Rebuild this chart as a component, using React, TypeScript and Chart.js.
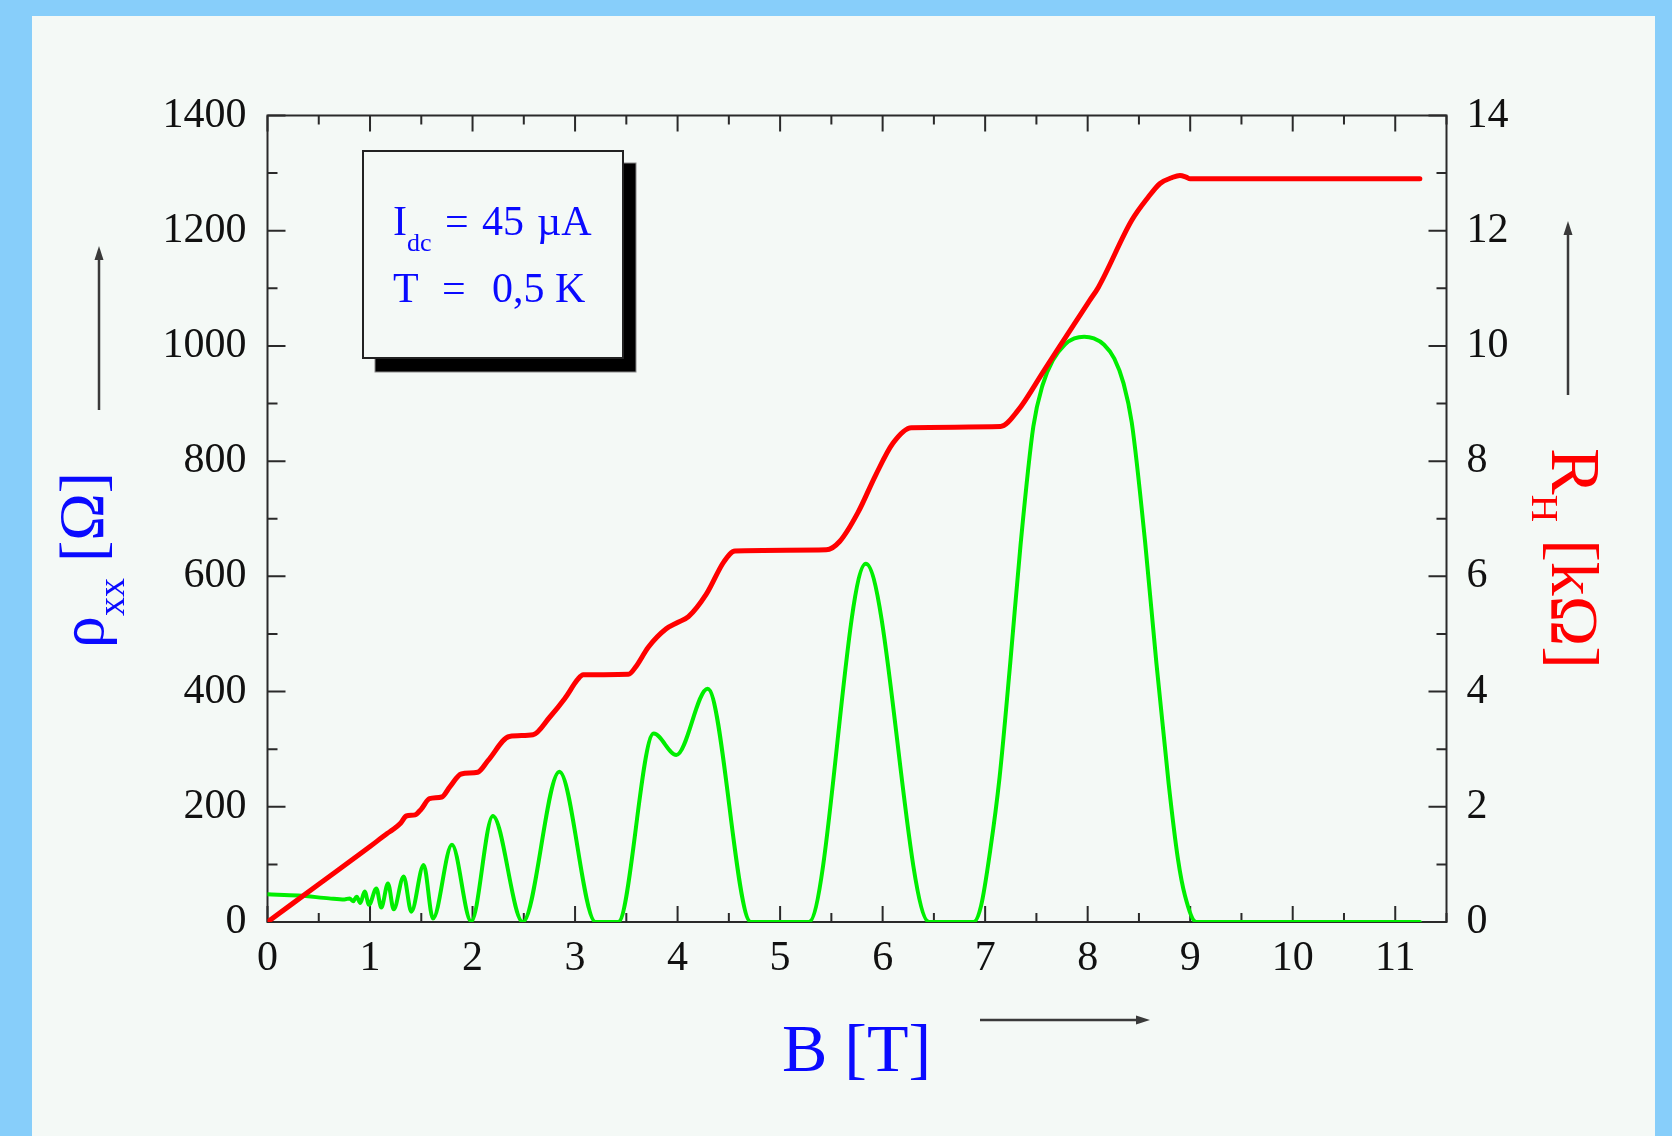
import React, { useEffect, useRef } from 'react';
import { Chart, registerables } from 'chart.js';

Chart.register(...registerables);

// ---- data ----
// longitudinal resistivity rho_xx [Ohm] vs B [T]
const rhoField = [
  0, 0.3, 0.6, 0.75, 0.8, 0.835, 0.87, 0.905, 0.948, 0.99, 1.062, 1.11, 1.175, 1.231, 1.328, 1.403,
  1.523, 1.614, 1.799, 1.987, 2.198, 2.49, 2.847, 3.2, 3.42, 3.767, 3.988, 4.293, 4.715, 5.28, 5.836,
  6.454, 6.888, 6.96, 7.05, 7.14, 7.245, 7.345, 7.47, 7.56, 7.66, 7.78, 7.87, 7.966, 8.06, 8.16, 8.26,
  8.35, 8.43, 8.56, 8.67, 8.79, 8.88, 8.95, 9.06, 11.24,
];
const rhoValues = [
  48, 46, 41, 39, 41, 36, 44, 33, 53, 30, 58, 25, 67, 22, 79, 18,
  99, 6, 134, 1, 184, 0, 261, 0, 0, 327, 290, 405, 0, 0, 622,
  0, 0, 28, 125, 250, 450, 654, 860, 932, 975, 1003, 1013, 1016, 1013, 1002, 978,
  935, 867, 660, 450, 240, 110, 45, 0, 0,
];
// Hall resistance R_H [kOhm] vs B [T]
const hallField = [
  0, 0.5, 1.0, 1.17, 1.22, 1.3, 1.354, 1.44, 1.5, 1.58, 1.7, 1.78, 1.89, 2.05, 2.15, 2.36, 2.59,
  2.75, 2.9, 3.03, 3.08, 3.52, 3.6, 3.714, 3.889, 4.0, 4.106, 4.28, 4.454, 4.56, 5.45, 5.583, 5.76,
  5.93, 6.1, 6.28, 7.15, 7.32, 7.58, 8.02, 8.105, 8.43, 8.59, 8.706, 8.82, 8.9, 8.96, 9.0, 11.24,
];
const hallValues = [
  0, 0.655, 1.31, 1.54, 1.6, 1.72, 1.84, 1.86, 1.96, 2.14, 2.17, 2.35, 2.57, 2.6, 2.8, 3.22, 3.25,
  3.55, 3.88, 4.22, 4.29, 4.3, 4.45, 4.77, 5.09, 5.2, 5.3, 5.69, 6.26, 6.44, 6.46, 6.61, 7.11,
  7.75, 8.31, 8.58, 8.6, 8.88, 9.59, 10.79, 11.02, 12.18, 12.58, 12.82, 12.92, 12.96, 12.93, 12.9, 12.9,
];

// ---- axes ----
const bTicks = [0, 1, 2, 3, 4, 5, 6, 7, 8, 9, 10, 11];
const bTickLabels = ['0', '1', '2', '3', '4', '5', '6', '7', '8', '9', '10', '11'];
const rhoTicks = [0, 200, 400, 600, 800, 1000, 1200, 1400];
const rhoTickLabels = ['0', '200', '400', '600', '800', '1000', '1200', '1400'];
const hallTicks = [0, 2, 4, 6, 8, 10, 12, 14];
const hallTickLabels = ['0', '2', '4', '6', '8', '10', '12', '14'];
const B_MIN = 0;
const B_MAX = 11.5;
const B_MINOR = 0.5;
const RHO_MINOR = 100;
const HALL_MINOR = 1;

const SERIF = "'Liberation Serif', 'Times New Roman', serif";
const BLUE = '#0a0aff';
const RED = '#ff0000';
const PANEL = '#f4f9f6';

type Part = { text: string; size: number; dy: number };

function drawParts(ctx: CanvasRenderingContext2D, parts: Part[], x: number, y: number, color: string) {
  ctx.fillStyle = color;
  ctx.textBaseline = 'alphabetic';
  ctx.textAlign = 'left';
  let px = x;
  for (const p of parts) {
    ctx.font = `${p.size}px ${SERIF}`;
    ctx.fillText(p.text, px, y + p.dy);
    px += ctx.measureText(p.text).width;
  }
}

function arrow(ctx: CanvasRenderingContext2D, x1: number, y1: number, x2: number, y2: number) {
  const ang = Math.atan2(y2 - y1, x2 - x1);
  const L = 14;
  const W = 4.5;
  ctx.save();
  ctx.strokeStyle = '#3a3a3a';
  ctx.fillStyle = '#3a3a3a';
  ctx.lineWidth = 2.5;
  ctx.beginPath();
  ctx.moveTo(x1, y1);
  ctx.lineTo(x2 - Math.cos(ang) * L * 0.7, y2 - Math.sin(ang) * L * 0.7);
  ctx.stroke();
  ctx.beginPath();
  ctx.moveTo(x2, y2);
  ctx.lineTo(x2 - Math.cos(ang) * L - Math.sin(ang) * W, y2 - Math.sin(ang) * L + Math.cos(ang) * W);
  ctx.lineTo(x2 - Math.cos(ang) * L + Math.sin(ang) * W, y2 - Math.sin(ang) * L - Math.cos(ang) * W);
  ctx.closePath();
  ctx.fill();
  ctx.restore();
}

export default function App() {
  const ref = useRef<HTMLCanvasElement>(null);

  useEffect(() => {
    const canvas = ref.current;
    if (!canvas) return;

    const bgPlugin = {
      id: 'bg',
      beforeDraw(chart: any) {
        const c = chart.ctx as CanvasRenderingContext2D;
        c.save();
        c.fillStyle = '#87cefa';
        c.fillRect(0, 0, chart.width, chart.height);
        c.fillStyle = PANEL;
        c.fillRect(32, 16, 1623, 1120);
        c.restore();
      },
    };

    const framePlugin = {
      id: 'frame',
      beforeDatasetsDraw(chart: any) {
        const ctx = chart.ctx as CanvasRenderingContext2D;
        const a = chart.chartArea;
        const sx = chart.scales.x;
        const sy = chart.scales.y;
        const sy1 = chart.scales.y1;
        ctx.save();
        ctx.strokeStyle = '#2a2a2a';
        ctx.lineWidth = 2;
        ctx.strokeRect(a.left, a.top, a.right - a.left, a.bottom - a.top);
        ctx.beginPath();
        const nB = Math.round((sx.max - sx.min) / B_MINOR);
        for (let i = 0; i <= nB; i++) {
          const v = sx.min + i * B_MINOR;
          const px = sx.getPixelForValue(v);
          const len = Math.abs(v - Math.round(v)) < 1e-6 ? 16 : 9;
          ctx.moveTo(px, a.bottom);
          ctx.lineTo(px, a.bottom - len);
          ctx.moveTo(px, a.top);
          ctx.lineTo(px, a.top + len);
        }
        const nR = Math.round((sy.max - sy.min) / RHO_MINOR);
        for (let i = 0; i <= nR; i++) {
          const v = sy.min + i * RHO_MINOR;
          const py = sy.getPixelForValue(v);
          const len = i % 2 === 0 ? 18 : 10;
          ctx.moveTo(a.left, py);
          ctx.lineTo(a.left + len, py);
        }
        const nH = Math.round((sy1.max - sy1.min) / HALL_MINOR);
        for (let i = 0; i <= nH; i++) {
          const v = sy1.min + i * HALL_MINOR;
          const py = sy1.getPixelForValue(v);
          const len = i % 2 === 0 ? 18 : 10;
          ctx.moveTo(a.right, py);
          ctx.lineTo(a.right - len, py);
        }
        ctx.stroke();
        ctx.restore();
      },
    };

    const annotPlugin = {
      id: 'annot',
      afterDraw(chart: any) {
        const ctx = chart.ctx as CanvasRenderingContext2D;
        ctx.save();
        // info box with shadow
        ctx.fillStyle = '#000';
        ctx.fillRect(375, 163, 261, 209);
        ctx.strokeStyle = '#888';
        ctx.lineWidth = 1;
        ctx.strokeRect(375, 163, 261, 209);
        ctx.fillStyle = PANEL;
        ctx.fillRect(363, 151, 260, 207);
        ctx.strokeStyle = '#222';
        ctx.lineWidth = 2;
        ctx.strokeRect(363, 151, 260, 207);

        drawParts(ctx, [{ text: 'I', size: 42, dy: 0 }], 393, 235, BLUE);
        drawParts(ctx, [{ text: 'dc', size: 26, dy: 0 }], 407, 251, BLUE);
        drawParts(ctx, [{ text: '=', size: 42, dy: 0 }], 445, 235, BLUE);
        drawParts(ctx, [{ text: '45', size: 42, dy: 0 }], 482, 235, BLUE);
        drawParts(ctx, [{ text: 'µA', size: 42, dy: 0 }], 537, 235, BLUE);
        drawParts(ctx, [{ text: 'T', size: 42, dy: 0 }], 393, 302, BLUE);
        drawParts(ctx, [{ text: '=', size: 42, dy: 0 }], 442, 302, BLUE);
        drawParts(ctx, [{ text: '0,5 K', size: 42, dy: 0 }], 492, 302, BLUE);

        // x-axis title
        drawParts(ctx, [{ text: 'B [T]', size: 68, dy: 0 }], 782, 1071, BLUE);
        arrow(ctx, 980, 1020, 1150, 1020);

        // left title (rotated)
        ctx.save();
        ctx.translate(103, 648);
        ctx.rotate(-Math.PI / 2);
        drawParts(
          ctx,
          [
            { text: 'ρ', size: 64, dy: 0 },
            { text: 'xx', size: 38, dy: 21 },
            { text: ' [Ω]', size: 64, dy: 0 },
          ],
          0,
          0,
          BLUE,
        );
        ctx.restore();
        arrow(ctx, 99, 410, 99, 246);

        // right title (rotated)
        ctx.save();
        ctx.translate(1552, 448);
        ctx.rotate(Math.PI / 2);
        drawParts(
          ctx,
          [
            { text: 'R', size: 70, dy: 0 },
            { text: 'H', size: 38, dy: 20 },
            { text: ' [kΩ]', size: 68, dy: 0 },
          ],
          0,
          0,
          RED,
        );
        ctx.restore();
        arrow(ctx, 1568, 395, 1568, 221);
        ctx.restore();
      },
    };

    const tickFont = { family: SERIF, size: 42 };

    const chart = new Chart(canvas, {
      type: 'line',
      data: {
        datasets: [
          {
            label: 'R_H',
            data: hallField.map((b, i) => ({ x: b, y: hallValues[i] })),
            yAxisID: 'y1',
            borderColor: RED,
            borderWidth: 5,
            pointRadius: 0,
            fill: false,
            cubicInterpolationMode: 'monotone',
            borderJoinStyle: 'round',
            borderCapStyle: 'round',
          },
          {
            label: 'rho_xx',
            data: rhoField.map((b, i) => ({ x: b, y: rhoValues[i] })),
            yAxisID: 'y',
            borderColor: '#00ee00',
            borderWidth: 4,
            pointRadius: 0,
            fill: false,
            cubicInterpolationMode: 'monotone',
            borderJoinStyle: 'round',
            borderCapStyle: 'round',
          },
        ],
      },
      options: {
        responsive: false,
        animation: false,
        events: [],
        layout: { padding: { top: 115.5, left: 0, right: 0, bottom: 0 } },
        plugins: { legend: { display: false }, tooltip: { enabled: false }, title: { display: false } },
        scales: {
          x: {
            type: 'linear',
            position: 'bottom',
            min: B_MIN,
            max: B_MAX,
            grid: { display: false, drawTicks: false },
            border: { display: false },
            ticks: {
              font: tickFont,
              color: '#111',
              padding: 12,
              maxRotation: 0,
              autoSkip: false,
              callback: (_v: any, i: number) => bTickLabels[i],
            },
            afterBuildTicks: (s: any) => {
              s.ticks = bTicks.map((v) => ({ value: v }));
            },
            afterFit: (s: any) => {
              s.height = 214;
            },
          },
          y: {
            type: 'linear',
            position: 'left',
            min: 0,
            max: 1400,
            grid: { display: false, drawTicks: false },
            border: { display: false },
            ticks: {
              font: tickFont,
              color: '#111',
              padding: 21,
              autoSkip: false,
              callback: (_v: any, i: number) => rhoTickLabels[i],
            },
            afterBuildTicks: (s: any) => {
              s.ticks = rhoTicks.map((v) => ({ value: v }));
            },
            afterFit: (s: any) => {
              s.width = 267.5;
            },
          },
          y1: {
            type: 'linear',
            position: 'right',
            min: 0,
            max: 14,
            grid: { display: false, drawTicks: false },
            border: { display: false },
            ticks: {
              font: tickFont,
              color: '#111',
              padding: 20,
              autoSkip: false,
              callback: (_v: any, i: number) => hallTickLabels[i],
            },
            afterBuildTicks: (s: any) => {
              s.ticks = hallTicks.map((v) => ({ value: v }));
            },
            afterFit: (s: any) => {
              s.width = 225.5;
            },
          },
        },
      },
      plugins: [bgPlugin, framePlugin, annotPlugin],
    } as any);

    return () => {
      chart.destroy();
    };
  }, []);

  return (
    <div style={{ position: 'fixed', left: 0, top: 0, width: 1672, height: 1136, overflow: 'hidden' }}>
      <canvas ref={ref} width={1672} height={1136} style={{ display: 'block', width: 1672, height: 1136 }} />
    </div>
  );
}
